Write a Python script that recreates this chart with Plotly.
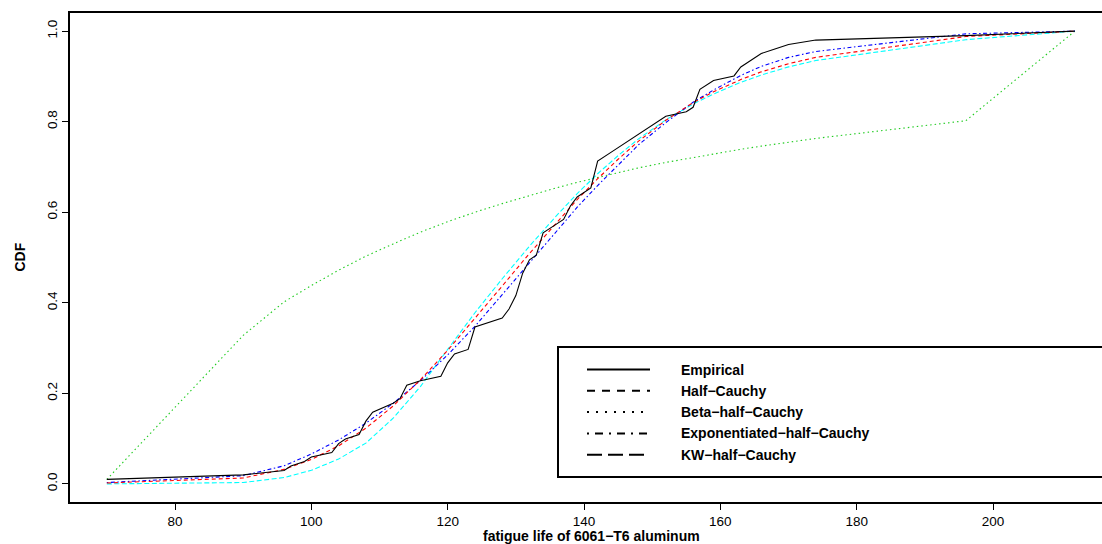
import plotly.graph_objects as go

# ---------------- data ----------------
emp_x = [70, 90, 96, 97, 99, 100, 103, 104, 105, 107, 108, 109, 112, 113, 114, 116, 119, 120,
         121, 123, 124, 128, 129, 130, 131, 132, 133, 134, 136, 137, 138, 139, 141, 142, 144,
         145, 146, 148, 149, 151, 152, 155, 156, 157, 158, 159, 162, 163, 164, 166, 168, 170,
         174, 196, 212]
emp_cdf = [0.0099, 0.0198, 0.0297, 0.0396, 0.0495, 0.0594, 0.0693, 0.0891, 0.0990, 0.1089,
           0.1386, 0.1584, 0.1782, 0.1881, 0.2178, 0.2277, 0.2376, 0.2673, 0.2871, 0.2970,
           0.3465, 0.3663, 0.3861, 0.4158, 0.4653, 0.4950, 0.5050, 0.5545, 0.5743, 0.5842,
           0.6139, 0.6337, 0.6535, 0.7129, 0.7327, 0.7426, 0.7525, 0.7723, 0.7822, 0.8020,
           0.8119, 0.8218, 0.8317, 0.8713, 0.8812, 0.8911, 0.9010, 0.9208, 0.9307, 0.9505,
           0.9604, 0.9703, 0.9802, 0.9901, 1.0]

fit_x = [70, 90, 96, 100, 104, 108, 112, 116, 120, 124, 128, 132, 136, 139, 142, 145, 148,
         152, 156, 159, 163, 166, 170, 174, 196, 212]
half_cauchy = [0.002, 0.013, 0.032, 0.054, 0.084, 0.123, 0.172, 0.230, 0.295, 0.365, 0.437,
               0.509, 0.578, 0.628, 0.674, 0.717, 0.757, 0.803, 0.842, 0.866, 0.893, 0.910,
               0.928, 0.942, 0.988, 1.0]
beta_half_cauchy = [0.010, 0.328, 0.402, 0.438, 0.472, 0.503, 0.530, 0.556, 0.579, 0.600,
                    0.619, 0.637, 0.654, 0.666, 0.677, 0.688, 0.698, 0.710, 0.721, 0.729,
                    0.739, 0.746, 0.755, 0.763, 0.802, 1.0]
exp_half_cauchy = [0.003, 0.018, 0.040, 0.066, 0.097, 0.134, 0.178, 0.228, 0.285, 0.348,
                   0.418, 0.489, 0.560, 0.611, 0.659, 0.705, 0.749, 0.798, 0.843, 0.870,
                   0.902, 0.922, 0.942, 0.955, 0.994, 1.0]
kw_half_cauchy = [0.000, 0.003, 0.014, 0.030, 0.055, 0.090, 0.145, 0.215, 0.297, 0.378,
                  0.453, 0.525, 0.593, 0.641, 0.685, 0.725, 0.762, 0.804, 0.839, 0.861,
                  0.887, 0.903, 0.921, 0.935, 0.981, 1.0]

x_ticks = [80, 100, 120, 140, 160, 180, 200]
y_ticks = [0.0, 0.2, 0.4, 0.6, 0.8, 1.0]
y_tick_text = ["0.0", "0.2", "0.4", "0.6", "0.8", "1.0"]

legend_labels = ["Empirical", "Half\u2212Cauchy", "Beta\u2212half\u2212Cauchy",
                 "Exponentiated\u2212half\u2212Cauchy", "KW\u2212half\u2212Cauchy"]
x_title = "fatigue life of 6061\u2212T6 aluminum"
y_title = "CDF"

# ---------------- figure ----------------
W, H = 1102, 544
ML, MR, MT, MB = 70, 0, 13, 42
PW, PH = W - ML - MR, H - MT - MB
FONT = "Liberation Sans, Arial, Helvetica, sans-serif"


def px_x(px):
    return (px - ML) / PW


def px_y(py):
    return (H - MB - py) / PH


fig = go.Figure()

curve_styles = [
    (fit_x, beta_half_cauchy, "#22cc22", "1.5px,3px"),
    (fit_x, kw_half_cauchy, "#00ffff", "5px,2.5px"),
    (fit_x, exp_half_cauchy, "#0000ff", "1.5px,2.5px,4px,2.5px"),
    (fit_x, half_cauchy, "#ff0000", "4px,3px"),
]
for xs, ys, col, dash in curve_styles:
    fig.add_trace(go.Scatter(x=xs, y=ys, mode="lines",
                             line=dict(color=col, width=1.1, dash=dash),
                             showlegend=False, hoverinfo="skip"))

fig.add_trace(go.Scatter(x=emp_x, y=emp_cdf, mode="lines",
                         line=dict(color="black", width=1.1),
                         showlegend=False, hoverinfo="skip"))

px_per_unit = 6.817
x0 = 80 - (175 - ML) / px_per_unit
x1 = x0 + PW / px_per_unit

fig.update_layout(
    width=W, height=H,
    margin=dict(l=ML, r=MR, t=MT, b=MB, pad=0),
    paper_bgcolor="white", plot_bgcolor="white",
    font=dict(family=FONT, size=14, color="black"),
    xaxis=dict(range=[x0, x1], tickvals=x_ticks, ticks="outside", ticklen=6, tickwidth=1,
               tickcolor="black", showgrid=False, zeroline=False, showline=True,
               linecolor="black", linewidth=2, mirror=True,
               tickfont=dict(family=FONT, size=13.5, color="black")),
    yaxis=dict(range=[-0.04, 1.04], tickvals=y_ticks, ticktext=y_tick_text,
               ticks="outside", ticklen=6, tickwidth=1, tickcolor="black",
               showgrid=False, zeroline=False, showline=True, linecolor="black",
               linewidth=2, mirror=False, tickangle=-90,
               tickfont=dict(family=FONT, size=13.5, color="black")),
    showlegend=False,
)

annotations = [
    dict(text="<b>" + y_title + "</b>", x=px_x(19), y=px_y(257.5), xref="paper", yref="paper",
         showarrow=False, textangle=-90, xanchor="center", yanchor="middle",
         font=dict(family=FONT, size=14, color="black")),
    dict(text="<b>" + x_title + "</b>", x=px_x(591), y=px_y(536), xref="paper", yref="paper",
         showarrow=False, xanchor="center", yanchor="middle",
         font=dict(family=FONT, size=14, color="black")),
]

shapes = []
# legend box (right edge runs off the figure like in the reference)
shapes.append(dict(type="rect", xref="paper", yref="paper",
                   x0=px_x(558), x1=px_x(1115), y0=px_y(477), y1=px_y(347),
                   line=dict(color="black", width=2), fillcolor="white", layer="above"))
legend_dashes = ["solid", "8px,7px", "2px,7px", "2px,6px,8px,6px", "15px,6px"]
row0, row_step = 369.5, 21.3
for i, (lab, dsh) in enumerate(zip(legend_labels, legend_dashes)):
    yy = row0 + i * row_step
    shapes.append(dict(type="line", xref="paper", yref="paper",
                       x0=px_x(587), x1=px_x(650), y0=px_y(yy), y1=px_y(yy),
                       line=dict(color="black", width=2, dash=dsh), layer="above"))
    annotations.append(dict(text="<b>" + lab + "</b>", x=px_x(679), y=px_y(yy),
                            xref="paper", yref="paper", showarrow=False,
                            xanchor="left", yanchor="middle",
                            font=dict(family=FONT, size=14, color="black")))

fig.update_layout(shapes=shapes, annotations=annotations)

fig.write_html("out.html", config={"displayModeBar": False},
               post_script="document.body.style.margin='0px';document.body.style.overflow='hidden';")
